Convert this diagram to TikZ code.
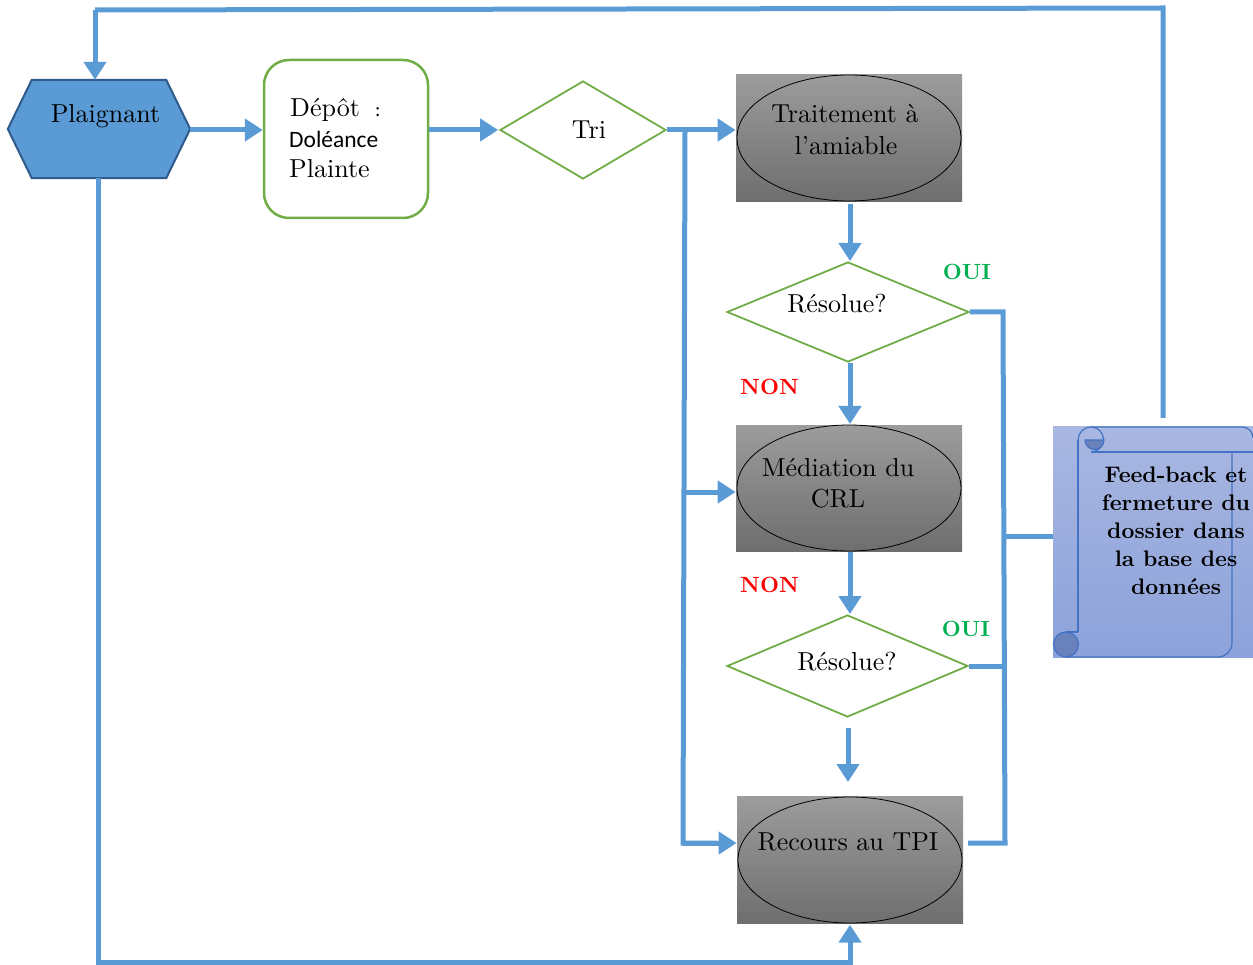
\documentclass[tikz,border=0pt]{standalone}
\usepackage{fontspec}
\setmainfont{lmroman10-regular.otf}[BoldFont=lmroman10-bold.otf]
\newfontfamily\calfont{Carlito}
\usetikzlibrary{shapes.geometric,arrows.meta,calc}
\definecolor{lblue}{HTML}{5B9BD5}
\definecolor{pldraw}{HTML}{2F5B8C}
\definecolor{dgreen}{HTML}{70AD47}
\definecolor{gtop}{HTML}{9C9C9C}
\definecolor{gbot}{HTML}{6E6E6E}
\definecolor{stop}{HTML}{A9B7E1}
\definecolor{sbot}{HTML}{8CA2DA}
\definecolor{sline}{HTML}{4472C4}
\definecolor{scurl}{HTML}{6A82BC}
\definecolor{ouig}{HTML}{00B050}
\definecolor{nonr}{HTML}{FF0000}
\newcommand\fsMain{\fontsize{26}{32}\selectfont}
\newcommand\fsScroll{\fontsize{22.5}{28}\selectfont\bfseries}
\newcommand\fsLab{\fontsize{22}{24}\selectfont\bfseries}
\begin{document}
\begin{tikzpicture}[x=1pt,y=-1pt,
  conn/.style={draw=lblue, line width=5pt},
  arr/.style={conn, -{Triangle[length=18pt,width=22pt]}},
  graybox/.style={rectangle, minimum width=226pt, minimum height=127pt, inner sep=0pt, top color=gtop, bottom color=gbot, draw=none},
  oval/.style={ellipse, draw=black, line width=0.8pt, minimum width=224pt, minimum height=126pt, inner sep=0pt},
  decide/.style={diamond, draw=dgreen, line width=1.8pt, fill=white, inner sep=0pt},
  txt/.style={inner sep=0pt, font=\fsMain},
  oui/.style={inner sep=0pt, font=\fsLab, text=ouig},
  non/.style={inner sep=0pt, font=\fsLab, text=nonr}]
\useasboundingbox (0,0) rectangle (1253,965);

% Plaignant hexagon
\node[rectangle, minimum width=182pt, minimum height=98pt, inner sep=0pt] (pl) at (99,129) {};
\filldraw[fill=lblue, draw=pldraw, line width=2pt] (pl.west) -- ([xshift=24pt]pl.north west) -- ([xshift=-24pt]pl.north east) -- (pl.east) -- ([xshift=-24pt]pl.south east) -- ([xshift=24pt]pl.south west) -- cycle;
\node[txt, anchor=base] (plt) at (105.5,123) {Plaignant};

% Depot
\node[rectangle, rounded corners=25pt, draw=dgreen, line width=2.5pt, fill=white, minimum width=164pt, minimum height=158pt] (dep) at (346,139) {};
\node[txt, anchor=base west] (dep1) at (290,117) {Dépôt};
\node[inner sep=0pt, anchor=base west, font=\calfont\fontsize{20}{24}\selectfont] (dep2) at (375,117) {:};
\node[inner sep=0pt, anchor=base west, font=\calfont\fontsize{23.5}{24}\selectfont] (dep3) at (289,148) {Doléance};
\node[txt, anchor=base west] (dep4) at (289,178) {Plainte};

% Tri
\node[decide, minimum width=166pt, minimum height=98pt] (tri) at (583,130) {};
\node[txt, anchor=base] (trit) at (589,139) {Tri};

% Traitement
\node[graybox] (trait) at (849,138) {};
\node[oval] (traito) at (849,138) {};
\node[txt, anchor=base] (tr1) at (845,123) {Traitement à};
\node[txt, anchor=base] (tr2) at (846,155) {l’amiable};

% Resolue 1
\node[decide, minimum width=242pt, minimum height=100pt] (res1) at (848,312) {};
\node[txt, anchor=base] (res1t) at (837,313) {Résolue?};

% Mediation
\node[graybox, minimum height=126pt] (med) at (849,488) {};
\node[oval] (medo) at (849,488) {};
\node[txt, anchor=base] (me1) at (838,476) {Médiation du};
\node[txt, anchor=base] (me2) at (838,507) {CRL};

% Resolue 2
\node[decide, minimum width=241pt, minimum height=102pt] (res2) at (847.5,666) {};
\node[txt, anchor=base] (res2t) at (847,670) {Résolue?};

% Recours
\node[graybox] (rec) at (850,860) {};
\node[oval] (reco) at (850,860) {};
\node[txt, anchor=base] (rect) at (848,850) {Recours au TPI};

% Labels
\node[oui, anchor=base] (oui1) at (967,280) {OUI};
\node[oui, anchor=base] (oui2) at (966,636) {OUI};
\node[non, anchor=base] (non1) at (769.5,395) {NON};
\node[non, anchor=base] (non2) at (769.5,592) {NON};

% Scroll
\node[rectangle, minimum width=200pt, minimum height=231pt, inner sep=0pt, top color=stop, bottom color=sbot, draw=none] (scroll) at (1153,541.5) {};
\begin{scope}[draw=sline, line width=1.2pt]
  % top roll
  \draw (1078,440) arc[start angle=180, end angle=270, radius=13] -- (1242,427) arc[start angle=270, end angle=360, radius=11];
  \draw (1091,427) arc[start angle=270, end angle=450, radius=12.5];
  \draw (1091,452) -- (1253,452);
  \filldraw[fill=scurl] (1104,440) arc[start angle=0, end angle=180, radius=9.5] -- cycle;
  % body
  \draw (1078,440) -- (1078,632);
  \draw (1232,452) -- (1232,643) arc[start angle=0, end angle=90, radius=14] -- (1066,657);
  % bottom curl
  \filldraw[fill=scurl] (1066,657) arc[start angle=90, end angle=450, radius=12.5];
  \draw (1066,632) -- (1078,632);
\end{scope}
\node[inner sep=0pt, align=center, font=\fsScroll] (scrt) at (1176,531) {Feed-back et\\fermeture du\\dossier dans\\la base des\\données};

% Connectors
\coordinate (tl) at (95,10);
\coordinate (tr) at (1163,8);
\draw[conn] ([xshift=10pt,yshift=8pt]scroll.north) -- (tr) -- (tl);
\draw[arr] (tl) -- (tl |- pl.north);

\draw[arr] (pl.east |- 0,130) -- (dep.west |- 0,130);
\draw[arr] (dep.east |- tri.west) -- ([xshift=-1pt]tri.west);
\draw[arr] (tri.east) -- ([xshift=-1pt]tri.east -| traito.west);

\coordinate (br) at (685,130);
\coordinate (b1) at (684,492);
\coordinate (b2) at (683,843);
\draw[conn] (br) -- (b2) -- ([xshift=-20pt]b2 -| reco.west);
\draw[arr] (b2) -- ([xshift=-1pt]b2 -| reco.west);
\draw[arr] (b1) -- ([xshift=-1pt]b1 -| medo.west);

\draw[arr, shorten <=2pt] (trait.south -| 850,0) -- (850,261);
\draw[arr] (res1.south -| 850,0) -- (850,424);
\draw[arr, shorten <=1pt] (med.south -| 850,0) -- (850,614);
\draw[arr, shorten <=10pt] (res2.south -| 848,0) -- (848,782);

\coordinate (bl) at (98,962);
\draw[arr] (pl.south -| bl) -- (bl) -| ([yshift=-1pt]rec.south);

\coordinate (r1) at (1003,312);
\coordinate (r2) at (1004,536);
\coordinate (r3) at (1005,843);
\draw[conn] (res1.east) -- (r1) -- (r3) -- (968,843);
\draw[conn] (res2.east) -- (res2.east -| r2);
\draw[conn] (r2) -- (r2 -| scroll.west);
\end{tikzpicture}
\end{document}
